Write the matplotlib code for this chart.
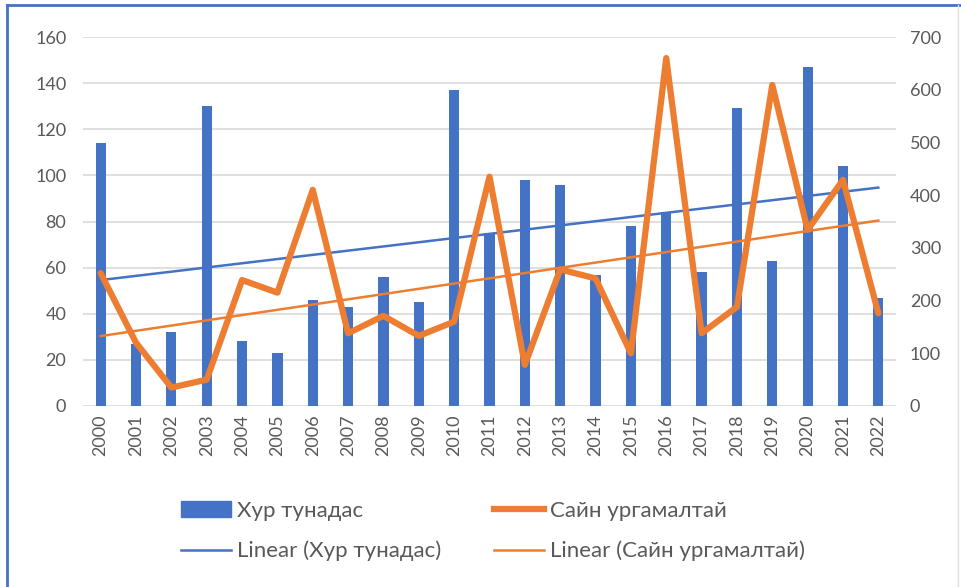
import numpy as np
import matplotlib
matplotlib.use("Agg")
import matplotlib.pyplot as plt
from matplotlib.lines import Line2D
from matplotlib.patches import Patch

years = [str(y) for y in range(2000, 2023)]
# Хур тунадас (left axis, bars)
precip = [114, 27, 32, 130, 28, 23, 46, 43, 56, 45, 137, 75,
          98, 96, 57, 78, 84, 58, 129, 63, 147, 104, 47]
# Сайн ургамалтай (right axis, line)
veg = [252, 120, 35, 50, 239, 215, 410, 138, 171, 133, 160, 435,
       78, 259, 242, 100, 660, 138, 188, 609, 334, 429, 176]

blue = "#4472C4"
orange = "#ED7D31"
grey_txt = "#595959"

W, H = 962, 587
fig = plt.figure(figsize=(W / 100, H / 100), dpi=100)
ax = fig.add_axes([83 / W, 1 - 406 / H, (896 - 83) / W, (406 - 37) / H])
ax2 = ax.twinx()

x = np.arange(len(years))
ax.bar(x, precip, width=0.29, color=blue, zorder=2)
ax.set_ylim(0, 160)
ax.set_yticks(range(0, 161, 20))
ax.grid(axis="y", color="#D9D9D9", lw=1.2, zorder=0)
ax.set_axisbelow(True)
ax.set_xlim(-0.5, len(years) - 0.5)
ax.set_xticks(x)
ax.set_xticklabels(years, rotation=90)

# trend lines
k1, b1 = np.polyfit(x, precip, 1)
ax.plot(x, k1 * x + b1, color=blue, lw=1.8, zorder=4)

ax2.plot(x, veg, color=orange, lw=4.5, solid_joinstyle="round",
         solid_capstyle="round", zorder=3)
k2, b2 = np.polyfit(x, veg, 1)
ax2.plot(x, k2 * x + b2, color=orange, lw=1.8, zorder=4)
ax2.set_ylim(0, 700)
ax2.set_yticks(range(0, 701, 100))

for a in (ax, ax2):
    for s in a.spines.values():
        s.set_visible(False)
    a.tick_params(length=0, labelsize=13, labelcolor=grey_txt, pad=8)
    for lab in a.get_xticklabels() + a.get_yticklabels():
        lab.set_family(["Lato", "DejaVu Sans"])
ax.tick_params(axis="y", pad=12)
ax2.tick_params(axis="y", pad=10)
ax.tick_params(axis="x", pad=6)
ax.set_zorder(ax2.get_zorder() - 1)
ax.patch.set_visible(True)
ax2.patch.set_visible(False)

handles = [
    Patch(color=blue),
    Line2D([], [], color=blue, lw=1.8),
    Line2D([], [], color=orange, lw=4.5),
    Line2D([], [], color=orange, lw=1.8),
]
labels = ["Хур тунадас", "Linear (Хур тунадас)",
          "Сайн ургамалтай", "Linear (Сайн ургамалтай)"]
fig.legend(handles, labels, ncol=2, loc="center", bbox_to_anchor=(493 / W, 1 - 531 / H),
           frameon=False, handlelength=2.25, handletextpad=0.25, columnspacing=2.4,
           labelspacing=0.9, prop={"family": ["Lato", "DejaVu Sans"], "size": 16},
           labelcolor=grey_txt)

# outer frame
fig.add_artist(Line2D([7 / W, 7 / W], [0, 1 - 5 / H], color=blue, lw=2, transform=fig.transFigure))
fig.add_artist(Line2D([7 / W, 1], [1 - 5 / H, 1 - 5 / H], color=blue, lw=2, transform=fig.transFigure))
fig.add_artist(Line2D([958 / W, 958 / W], [0, 1 - 5 / H], color="#E0E0E0", lw=1, transform=fig.transFigure))

fig.savefig("out.png", dpi=100)
